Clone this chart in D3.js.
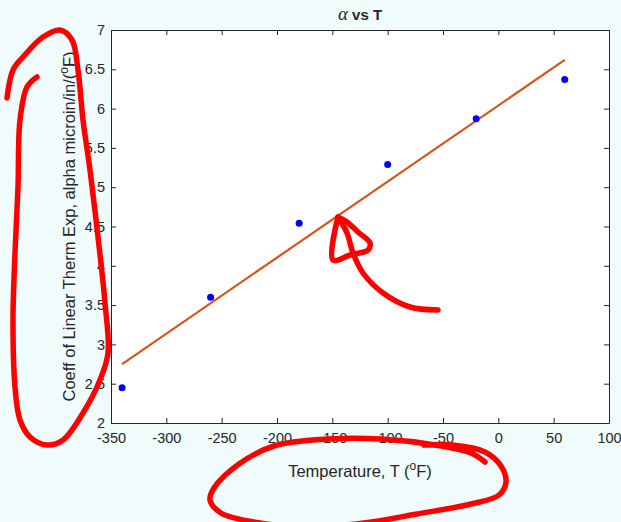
<!DOCTYPE html>
<html>
<head>
<meta charset="utf-8">
<script src="https://cdn.jsdelivr.net/npm/d3@7"></script>
<style>
  html, body { margin: 0; padding: 0; background: #f0fbfb; }
  svg { display: block; }
  text { font-family: "Liberation Sans", Arial, Helvetica, sans-serif; fill: #262626; }
</style>
</head>
<body>
<svg id="chart" width="621" height="522"></svg>
<script>
// ---- data ----
const temperatures = [-340, -260, -180, -100, -20, 60];
const alphaValues = [2.45, 3.60, 4.54, 5.29, 5.87, 6.37];
const fitTemps = [-340, 60];
const fitAlpha = [2.75, 6.62];
const xTicks = [-350, -300, -250, -200, -150, -100, -50, 0, 50, 100];
const yTicks = [2, 2.5, 3, 3.5, 4, 4.5, 5, 5.5, 6, 6.5, 7];

// ---- layout ----
const W = 621, H = 522;
const L = 111, R = 609, T = 30, B = 423;
const svg = d3.select("#chart");

svg.append("rect").attr("width", W).attr("height", H).attr("fill", "#f0fbfb");

const x = d3.scaleLinear().domain([-350, 100]).range([L, R]);
const y = d3.scaleLinear().domain([2, 7]).range([B, T]);

svg.append("rect").attr("x", L).attr("y", T).attr("width", R - L).attr("height", B - T).attr("fill", "#ffffff");

// fit line
const fit = fitTemps.map((t, i) => [t, fitAlpha[i]]);
svg.append("path")
  .attr("d", d3.line().x(d => x(d[0])).y(d => y(d[1]))(fit))
  .attr("stroke", "#D95319").attr("stroke-width", 2.2).attr("fill", "none");

// points
svg.selectAll("circle.pt").data(temperatures.map((t, i) => [t, alphaValues[i]]))
  .enter().append("circle").attr("class", "pt")
  .attr("cx", d => x(d[0])).attr("cy", d => y(d[1])).attr("r", 3.5)
  .attr("fill", "#0000ff");

// axes (ticks inward, box)
const axisColor = "#262626";
const tickLen = 5;
const g = svg.append("g");
const fmt = d => String(d);
const axB = d3.axisBottom(x).tickValues(xTicks).tickSizeInner(-tickLen).tickSizeOuter(0).tickFormat(fmt);
const axT = d3.axisTop(x).tickValues(xTicks).tickSizeInner(-tickLen).tickSizeOuter(0).tickFormat("");
const axL = d3.axisLeft(y).tickValues(yTicks).tickSizeInner(-tickLen).tickSizeOuter(0).tickFormat(fmt);
const axR = d3.axisRight(y).tickValues(yTicks).tickSizeInner(-tickLen).tickSizeOuter(0).tickFormat("");

function style(sel) {
  sel.attr("font-size", null).attr("font-family", null);
  sel.select(".domain").attr("stroke", axisColor).attr("stroke-width", 1);
  sel.selectAll(".tick line").attr("stroke", axisColor).attr("stroke-width", 1);
  sel.selectAll(".tick text").attr("fill", axisColor)
     .style("font-family", "'Liberation Sans', Arial, sans-serif").style("font-size", "14.5px");
}
const gB = g.append("g").attr("transform", `translate(0,${B})`).call(axB).call(style);
gB.selectAll(".tick text").attr("y", 10).attr("dy", "0.71em");
const gT = g.append("g").attr("transform", `translate(0,${T})`).call(axT).call(style);
const gL = g.append("g").attr("transform", `translate(${L},0)`).call(axL).call(style);
gL.selectAll(".tick text").attr("x", -6);
const gR = g.append("g").attr("transform", `translate(${R},0)`).call(axR).call(style);

// title
const title = svg.append("text").attr("x", (L + R) / 2).attr("y", 20)
  .attr("text-anchor", "middle").style("font-size", "15px").style("font-weight", "bold");
title.append("tspan").text("α").style("font-family", "'Liberation Serif', 'Times New Roman', serif")
  .style("font-style", "italic").style("font-weight", "normal").style("font-size", "19px");
title.append("tspan").text(" vs T");

// x label
const xl = svg.append("text").attr("x", (L + R) / 2).attr("y", 477)
  .attr("text-anchor", "middle").style("font-size", "16.5px");
xl.append("tspan").text("Temperature, T (");
xl.append("tspan").text("o").attr("dy", -7).style("font-size", "12px");
xl.append("tspan").text("F)").attr("dy", 7);

// y label
const yl = svg.append("text").attr("transform", `translate(75,${(T + B) / 2}) rotate(-90)`)
  .attr("text-anchor", "middle").style("font-size", "16.5px");
yl.append("tspan").text("Coeff of Linear Therm Exp, alpha microin/in/(");
yl.append("tspan").text("o").attr("dy", -7).style("font-size", "12px");
yl.append("tspan").text("F)").attr("dy", 7);

// ---- hand-drawn red annotations (screen overlay) ----
const yLoop = [[7,98],[13,70],[23,57],[43,37],[60,30],[72,40],[78,70],[83,120],[90,170],[98,237],[105,303],[108,353],[100,380],[83,413],[63,440],[47,445],[30,437],[20,420],[15,387],[13,320],[15,253],[18,187],[20,120],[27,87],[37,77]];
const xLoop = [[485,462],[471,453],[435,445],[381,439],[328,439],[274,446],[239,464],[214,488],[210,500],[221,513],[260,523],[310,527],[364,523],[417,514],[471,504],[499,495],[506,482],[501,466],[485,452],[453,445],[424,445]];
const arrowTail = [[438,310],[410,307],[383,293],[363,273],[353,253],[347,233],[338,217]];
const arrowHead = [[338,217],[333,260],[350,255],[368,250],[370,243],[358,232],[347,222],[338,217]];
const pen = d3.line().curve(d3.curveCatmullRom.alpha(0.5));
[yLoop, xLoop, arrowTail, arrowHead].forEach(p => {
  svg.append("path").attr("d", pen(p)).attr("fill", "none").attr("stroke", "#ff0000")
    .attr("stroke-width", 5.5).attr("stroke-linecap", "round").attr("stroke-linejoin", "round");
});
</script>
</body>
</html>
